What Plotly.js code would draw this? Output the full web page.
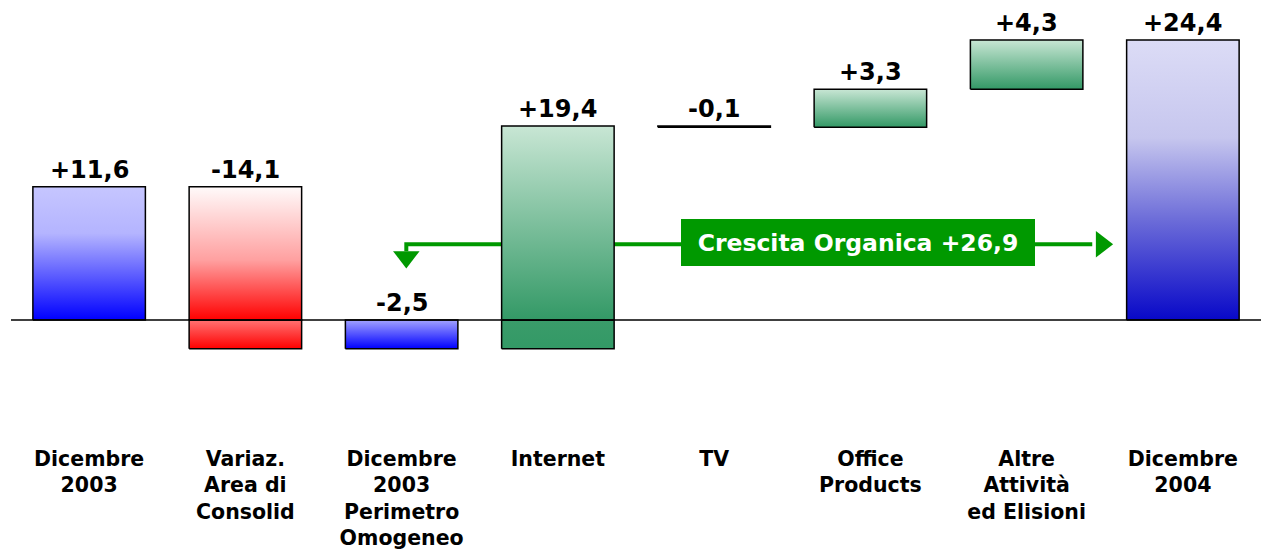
<!DOCTYPE html>
<html>
<head>
<meta charset="utf-8">
<script src="https://cdn.plot.ly/plotly-3.0.1.min.js"></script>
<style>
  html, body { margin: 0; padding: 0; background: #fff; }
  #chart { width: 1263px; height: 553px; }
</style>
</head>
<body>
<div id="chart"></div>
<script>
  // ---------- Data ----------
  const categories = [
    'Dicembre<br>2003',
    'Variaz.<br>Area di<br>Consolid',
    'Dicembre<br>2003<br>Perimetro<br>Omogeneo',
    'Internet',
    'TV',
    'Office<br>Products',
    'Altre<br>Attività<br>ed Elisioni',
    'Dicembre<br>2004'
  ];
  const measures = ['absolute', 'relative', 'total', 'relative', 'relative', 'relative', 'relative', 'total'];
  const values = [11.6, -14.1, -2.5, 19.4, -0.1, 3.3, 4.3, 24.4];
  const valueLabels = ['+11,6', '-14,1', '-2,5', '+19,4', '-0,1', '+3,3', '+4,3', '+24,4'];
  const palettes = ['blue', 'red', 'blue', 'green', 'green', 'green', 'green', 'navy'];

  // organic growth arrow: from category 2 to category 7
  const growthLabel = 'Crescita Organica +26,9';
  const growthFrom = 2;
  const growthTo = 7;
  const growthLevel = 6.6;

  // ---------- Styling ----------
  const FONT = 'DejaVu Sans, Verdana, sans-serif';
  const GREEN = '#009900';
  const barHalf = 0.36;

  // gradients, bottom (0) -> top (1)
  const gradients = {
    blue:  { above: [[0, '#0000ff'], [0.65, '#b4b4ff'], [1, '#c6c6ff']],
             below: [[0, '#0000ff'], [1, '#a2a2ff']] },
    red:   { above: [[0, '#ff0000'], [0.45, '#ffa0a0'], [1, '#fffafa']],
             below: [[0, '#ff0000'], [1, '#ff7272']] },
    green: { above: [[0, '#339966'], [1, '#c8e6d4']],
             below: [[0, '#339966'], [1, '#3a9c6a']] },
    navy:  { above: [[0, '#0808c8'], [0.35, '#6a6ad8'], [0.65, '#c6c6ee'], [1, '#dcdcf6']],
             below: [[0, '#0808c8'], [1, '#6a6ad8']] }
  };

  // ---------- Waterfall geometry ----------
  const bars = [];
  let run = 0;
  values.forEach((v, i) => {
    let base, top;
    if (measures[i] === 'absolute' || measures[i] === 'total') {
      base = 0; top = v; run = v;
    } else {
      base = run; top = run + v; run = top;
    }
    bars.push({ i, lo: Math.min(base, top), hi: Math.max(base, top) });
  });

  function segTrace(i, lo, hi, scale) {
    return {
      type: 'scatter',
      x: [i - barHalf, i + barHalf, i + barHalf, i - barHalf, i - barHalf],
      y: [lo, lo, hi, hi, lo],
      mode: 'lines',
      fill: 'toself',
      fillgradient: { type: 'vertical', colorscale: scale },
      line: { color: '#000', width: 1.5 },
      hoverinfo: 'skip',
      showlegend: false
    };
  }

  const traces = [];

  // arrow line (behind bars)
  traces.push({
    type: 'scatter',
    x: [growthFrom + 0.03, growthFrom + 0.03, growthTo - 0.58],
    y: [growthLevel - 0.6, growthLevel, growthLevel],
    mode: 'lines',
    line: { color: GREEN, width: 4 },
    hoverinfo: 'skip',
    showlegend: false
  });
  traces.push({
    type: 'scatter',
    x: [growthFrom + 0.03, growthTo - 0.52],
    y: [growthLevel - 1.1, growthLevel],
    mode: 'markers',
    marker: { symbol: ['triangle-down', 'triangle-right'], size: 23, color: GREEN, line: { width: 0 } },
    hoverinfo: 'skip',
    showlegend: false
  });

  bars.forEach(b => {
    const g = gradients[palettes[b.i]];
    if (b.lo < 0 && b.hi > 0) {
      traces.push(segTrace(b.i, b.lo, 0, g.below));
      traces.push(segTrace(b.i, 0, b.hi, g.above));
    } else if (b.hi <= 0) {
      traces.push(segTrace(b.i, b.lo, b.hi, g.below));
    } else {
      traces.push(segTrace(b.i, b.lo, b.hi, g.above));
    }
  });

  const annotations = bars.map(b => ({
    x: b.i, y: b.hi, xref: 'x', yref: 'y',
    text: valueLabels[b.i],
    showarrow: false,
    xanchor: 'center', yanchor: 'bottom', yshift: 1,
    font: { family: FONT, size: 24, weight: 'bold', color: '#000' }
  }));

  annotations.push({
    x: 4.92, y: growthLevel + 0.15, xref: 'x', yref: 'y',
    text: growthLabel,
    showarrow: false,
    xanchor: 'center', yanchor: 'middle',
    width: 336, height: 29,
    bgcolor: GREEN, borderpad: 8, borderwidth: 1, bordercolor: GREEN,
    font: { family: FONT, size: 23.5, weight: 'bold', color: '#fff' }
  });

  const layout = {
    width: 1263,
    height: 553,
    margin: { l: 11, r: 2, t: 5, b: 113 },
    paper_bgcolor: '#fff',
    plot_bgcolor: '#fff',
    showlegend: false,
    xaxis: {
      range: [-0.5, 7.5],
      tickvals: categories.map((_, i) => i),
      ticktext: categories,
      tickfont: { family: FONT, size: 20.5, weight: 'bold', color: '#000' },
      ticklabelstandoff: 4,
      ticks: '',
      showgrid: false,
      zeroline: false,
      showline: false,
      fixedrange: true
    },
    yaxis: {
      range: [-10.45, 27.44],
      visible: false,
      fixedrange: true
    },
    shapes: [{
      type: 'line', xref: 'paper', yref: 'y',
      x0: 0, x1: 1, y0: 0, y1: 0,
      line: { color: '#000', width: 1.5 },
      layer: 'above'
    }],
    annotations: annotations
  };

  Plotly.newPlot('chart', traces, layout, { displayModeBar: false, staticPlot: true });
</script>
</body>
</html>
